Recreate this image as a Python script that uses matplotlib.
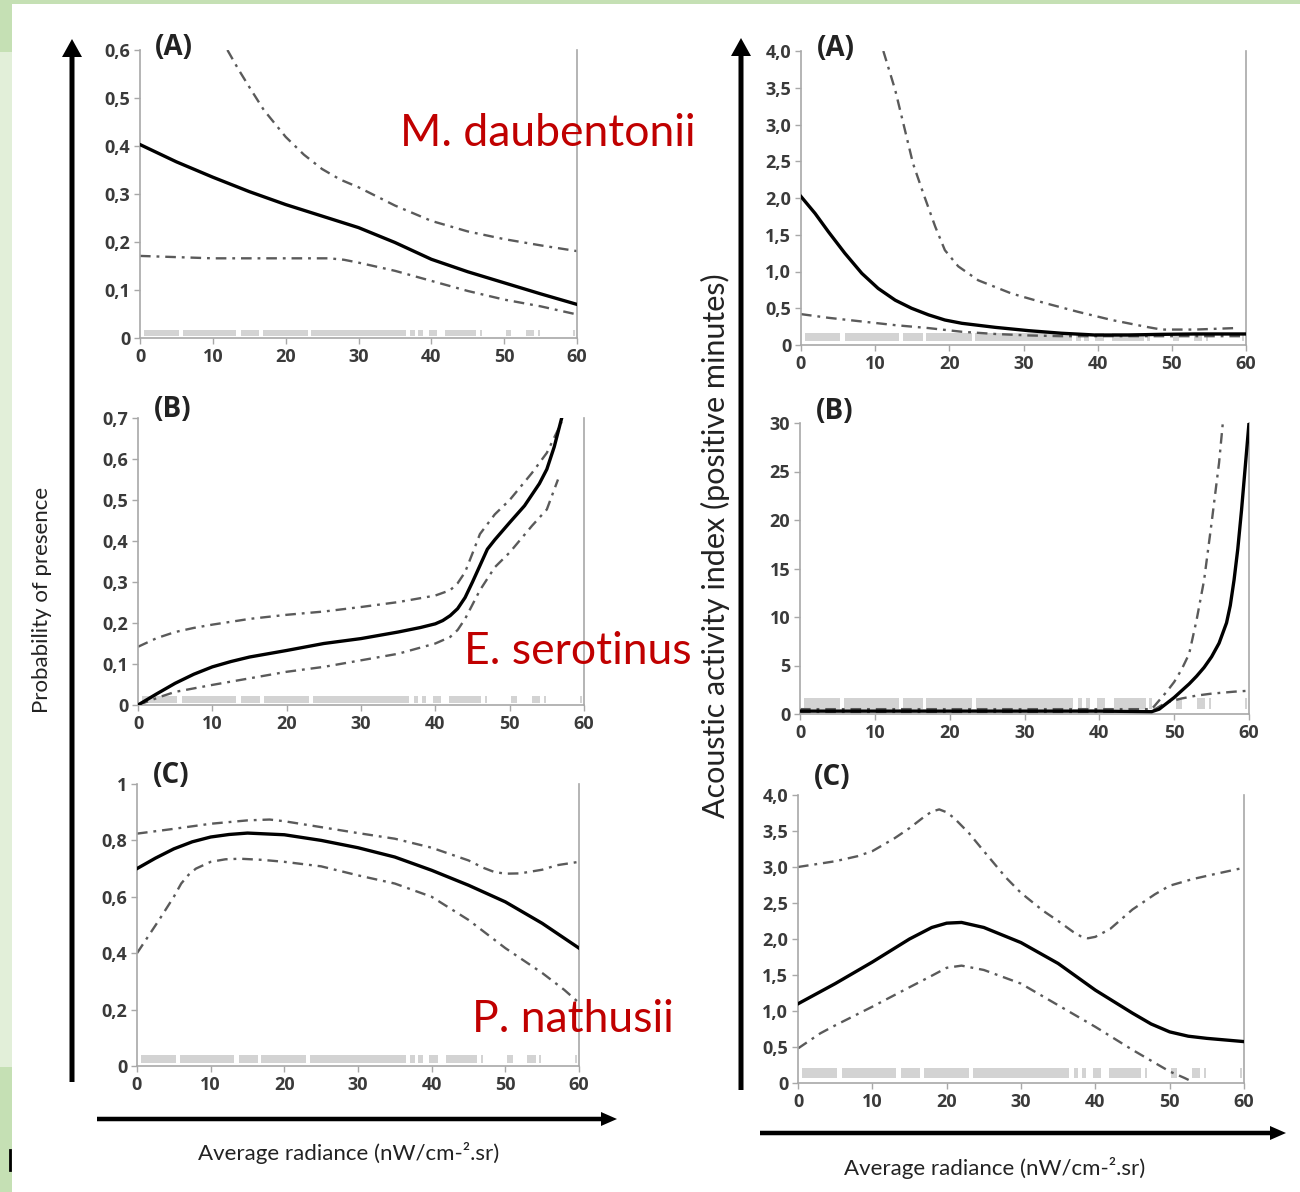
import numpy as np
import matplotlib.pyplot as plt
from matplotlib.patches import Rectangle, FancyArrow

plt.rcParams['font.family'] = ['Lato', 'DejaVu Sans']

# x positions (radiance) of the sampled sites, drawn as a rug of spans
rug_spans = [(0.5, 5.3), (5.9, 13.2), (13.8, 16.4), (16.9, 23.0), (23.5, 36.5),
             (37.1, 37.7), (38.2, 38.8), (39.7, 40.8), (41.9, 46.2), (46.7, 47.0),
             (50.2, 51.0), (53.0, 54.1), (54.6, 54.9), (59.4, 59.7)]

x_ticks = [0, 10, 20, 30, 40, 50, 60]

# ---- probability of presence ----
# (A) M. daubentonii
pA_solid_x = [0, 5, 10, 15, 20, 25, 30, 35, 40, 45, 50, 55, 60]
pA_solid_y = [0.403, 0.367, 0.335, 0.305, 0.278, 0.254, 0.230, 0.199, 0.164, 0.138, 0.115, 0.092, 0.070]
pA_up_x = [12, 13.5, 15, 17, 20, 22.5, 25, 27.5, 30, 35, 40, 45, 50, 55, 60]
pA_up_y = [0.600, 0.560, 0.523, 0.475, 0.419, 0.382, 0.352, 0.330, 0.314, 0.276, 0.244, 0.222, 0.206, 0.193, 0.181]
pA_lo_x = [0, 10, 20, 26, 28, 30, 35, 40, 45, 50, 55, 60]
pA_lo_y = [0.171, 0.166, 0.166, 0.166, 0.163, 0.157, 0.140, 0.119, 0.098, 0.080, 0.066, 0.049]

# (B) E. serotinus
pB_solid_x = [0, 2.5, 5, 7.5, 10, 12.5, 15, 20, 25, 30, 35, 38, 40, 41, 42, 43, 44, 45, 46, 47, 48, 50, 52,
              54, 55, 56, 57]
pB_solid_y = [0.0, 0.027, 0.053, 0.075, 0.093, 0.106, 0.117, 0.133, 0.150, 0.162, 0.178, 0.189, 0.198,
              0.206, 0.218, 0.235, 0.262, 0.300, 0.340, 0.380, 0.403, 0.445, 0.486, 0.540, 0.575, 0.630, 0.700]
pB_up_x = [0, 2.5, 5, 7.5, 10, 15, 20, 25, 30, 35, 40, 42, 43, 44, 45, 46, 48, 50, 53, 55, 57]
pB_up_y = [0.142, 0.163, 0.178, 0.188, 0.196, 0.210, 0.220, 0.228, 0.239, 0.251, 0.267, 0.280, 0.297, 0.324,
           0.370, 0.417, 0.465, 0.500, 0.566, 0.615, 0.690]
pB_lo_x = [0, 3, 5, 10, 15, 20, 25, 30, 35, 40, 42, 43, 44, 45, 46, 48, 50, 53, 55, 56.5]
pB_lo_y = [0.0, 0.020, 0.032, 0.049, 0.065, 0.081, 0.093, 0.109, 0.125, 0.150, 0.166, 0.183, 0.210, 0.245,
           0.280, 0.336, 0.372, 0.437, 0.477, 0.550]

# (C) P. nathusii
pC_solid_x = [0, 2.5, 5, 7.5, 10, 12.5, 15, 20, 25, 30, 35, 40, 45, 50, 55, 60]
pC_solid_y = [0.700, 0.737, 0.770, 0.795, 0.812, 0.821, 0.826, 0.820, 0.800, 0.774, 0.741, 0.694, 0.641,
              0.582, 0.506, 0.418]
pC_up_x = [0, 5, 10, 15, 18, 20, 25, 30, 35, 40, 45, 47, 48.5, 50, 52, 55, 57, 60]
pC_up_y = [0.824, 0.841, 0.859, 0.871, 0.874, 0.868, 0.847, 0.826, 0.806, 0.774, 0.729, 0.703, 0.688, 0.682,
           0.683, 0.696, 0.712, 0.724]
pC_lo_x = [0, 3, 5, 6, 7, 8, 10, 12, 14, 17, 20, 25, 30, 35, 40, 45, 50, 55, 58, 60]
pC_lo_y = [0.400, 0.518, 0.600, 0.647, 0.678, 0.700, 0.724, 0.733, 0.735, 0.731, 0.724, 0.708, 0.676, 0.647,
           0.600, 0.518, 0.418, 0.330, 0.270, 0.224]

# ---- acoustic activity index ----
# (A)
aA_solid_x = [0, 1.9, 3.7, 5.9, 8.2, 10.4, 12.7, 14.9, 17.2, 19.4, 21.7, 26.2, 30.7, 35.1, 39.6, 44.1, 48.6,
              53.1, 60]
aA_solid_y = [2.02, 1.79, 1.54, 1.25, 0.975, 0.77, 0.61, 0.50, 0.41, 0.34, 0.295, 0.24, 0.195, 0.16, 0.136,
              0.136, 0.145, 0.15, 0.15]
aA_up_x = [11.1, 12.7, 14.0, 15.1, 16.5, 18.1, 19.4, 21.2, 23.9, 28.4, 32.9, 37.4, 41.9, 46.4, 48.6, 53.1, 58.5]
aA_up_y = [4.0, 3.47, 2.93, 2.47, 2.06, 1.61, 1.29, 1.07, 0.88, 0.70, 0.57, 0.45, 0.34, 0.25, 0.21, 0.21, 0.23]
aA_lo_x = [0, 3.7, 8.2, 12.7, 17.2, 21.7, 26.2, 30.7, 35.1, 45, 60]
aA_lo_y = [0.42, 0.37, 0.32, 0.27, 0.23, 0.18, 0.15, 0.13, 0.12, 0.12, 0.12]

# (B)
aB_solid_x = [0, 10, 20, 30, 40, 47, 48, 49, 50, 51, 52, 53, 54, 55, 56, 57, 57.5, 58, 58.5, 59, 59.5, 60]
aB_solid_y = [0.3, 0.3, 0.3, 0.3, 0.3, 0.24, 0.5, 1.1, 1.7, 2.4, 3.1, 3.9, 4.8, 5.9, 7.3, 9.4, 11.2, 13.8,
              17.0, 21.0, 25.5, 30.0]
aB_up_x = [0, 10, 20, 30, 40, 47, 48, 49, 50, 51, 52, 53, 54, 55, 56, 56.5]
aB_up_y = [0.5, 0.5, 0.5, 0.5, 0.5, 0.5, 1.4, 2.3, 3.3, 4.6, 6.2, 9.7, 13.8, 19.7, 25.9, 30.0]
aB_lo_x = [0, 10, 20, 30, 40, 47, 49, 51, 53, 55, 58, 60]
aB_lo_y = [0.2, 0.2, 0.2, 0.2, 0.2, 0.3, 1.2, 1.6, 1.9, 2.1, 2.3, 2.4]

# (C)
aC_solid_x = [0, 5, 10, 15, 18, 20, 22, 25, 30, 35, 40, 45, 47.5, 50, 52.5, 55, 60]
aC_solid_y = [1.10, 1.38, 1.68, 2.00, 2.16, 2.22, 2.23, 2.16, 1.95, 1.66, 1.29, 0.97, 0.82, 0.71, 0.65,
              0.62, 0.575]
aC_up_x = [0, 5, 8, 10, 13, 15, 17, 18, 19, 20, 21, 23, 25, 28, 30, 33, 35, 37, 38, 39, 40, 42, 45, 48,
           50, 53, 56, 60]
aC_up_y = [3.00, 3.08, 3.15, 3.22, 3.40, 3.54, 3.70, 3.77, 3.80, 3.76, 3.68, 3.47, 3.22, 2.85, 2.64, 2.39,
           2.25, 2.10, 2.04, 2.01, 2.03, 2.14, 2.41, 2.62, 2.74, 2.83, 2.90, 2.99]
aC_lo_x = [0, 3, 5, 10, 15, 18, 20, 22, 25, 30, 35, 40, 45, 50, 52, 53]
aC_lo_y = [0.48, 0.69, 0.80, 1.06, 1.33, 1.49, 1.60, 1.63, 1.57, 1.38, 1.08, 0.78, 0.46, 0.16, 0.07, 0.02]

W, H = 1300, 1192
fig = plt.figure(figsize=(W / 100, H / 100), dpi=100)

# background layer in pixel coordinates
bg = fig.add_axes([0, 0, 1, 1])
bg.set_xlim(0, W)
bg.set_ylim(H, 0)
bg.axis('off')
dark_green, light_green = '#c5e0b4', '#e2efd9'
bg.add_patch(Rectangle((0, 0), W, 4, color=dark_green, lw=0))
bg.add_patch(Rectangle((0, 0), 12, 52, color=dark_green, lw=0))
bg.add_patch(Rectangle((0, 52), 12, 1015, color=light_green, lw=0))
bg.add_patch(Rectangle((0, 1067), 12, H - 1067, color=dark_green, lw=0))
bg.plot([10, 10], [1150, 1170], color='black', lw=2)

# big axis arrows
bg.add_patch(FancyArrow(72, 1082, 0, -1043, width=5, head_width=20, head_length=18,
                        length_includes_head=True, color='black', lw=0))
bg.add_patch(FancyArrow(741, 1090, 0, -1052, width=5, head_width=20, head_length=18,
                        length_includes_head=True, color='black', lw=0))
bg.add_patch(FancyArrow(97, 1119, 520, 0, width=4.5, head_width=14, head_length=16,
                        length_includes_head=True, color='black', lw=0))
bg.add_patch(FancyArrow(760, 1133, 526, 0, width=4.5, head_width=14, head_length=16,
                        length_includes_head=True, color='black', lw=0))

spine_col = '#a8a8a8'
ci_col = '#5a5a5a'
rug_col = '#d3d3d3'
dashdot = (0, (4.5, 2.5, 1.2, 2.5))
tick_font = ['Open Sans', 'DejaVu Sans']


def panel(px, ylim, yticks, ylabels, solid, upper, lower, tag, tag_y, rug_y):
    x0, x60, y0, ytop = px
    ax = fig.add_axes([x0 / W, 1 - y0 / H, (x60 - x0) / W, (y0 - ytop) / H])
    ax.patch.set_alpha(0)
    ax.set_xlim(0, 60)
    ax.set_ylim(*ylim)
    for s in ['left', 'bottom', 'right']:
        ax.spines[s].set_color(spine_col)
        ax.spines[s].set_linewidth(1.2)
    ax.spines['top'].set_visible(False)
    ax.set_xticks(x_ticks)
    ax.set_xticklabels([str(t) for t in x_ticks])
    ax.set_yticks(yticks)
    ax.set_yticklabels(ylabels)
    ax.tick_params(axis='both', colors=spine_col, labelcolor='#3a3a3a', length=4,
                   width=1, labelsize=13, pad=3)
    for lab in ax.get_xticklabels() + ax.get_yticklabels():
        lab.set_fontweight('bold')
        lab.set_family(tick_font)
    ax.broken_barh([(a, b - a) for a, b in rug_spans], rug_y,
                   transform=ax.get_xaxis_transform(), color=rug_col, lw=0, zorder=1)
    ax.plot(*upper, color=ci_col, lw=1.7, ls=dashdot, zorder=2)
    ax.plot(*lower, color=ci_col, lw=1.7, ls=dashdot, zorder=2)
    ax.plot(*solid, color='black', lw=2.4, zorder=3)
    ax.text(0.035, tag_y, tag, transform=ax.transAxes, ha='left', va='center',
            fontsize=20, fontweight='bold', color='#222222', family=tick_font)
    return ax


panel((140, 577, 338, 50), (0, 0.6), [0, 0.1, 0.2, 0.3, 0.4, 0.5, 0.6],
      ['0', '0,1', '0,2', '0,3', '0,4', '0,5', '0,6'],
      (pA_solid_x, pA_solid_y), (pA_up_x, pA_up_y), (pA_lo_x, pA_lo_y),
      '(A)', 1.01, (0.008, 0.02))
panel((138, 584, 705, 418), (0, 0.7), [0, 0.1, 0.2, 0.3, 0.4, 0.5, 0.6, 0.7],
      ['0', '0,1', '0,2', '0,3', '0,4', '0,5', '0,6', '0,7'],
      (pB_solid_x, pB_solid_y), (pB_up_x, pB_up_y), (pB_lo_x, pB_lo_y),
      '(B)', 1.03, (0.008, 0.022))
panel((137, 579, 1066, 784), (0, 1), [0, 0.2, 0.4, 0.6, 0.8, 1],
      ['0', '0,2', '0,4', '0,6', '0,8', '1'],
      (pC_solid_x, pC_solid_y), (pC_up_x, pC_up_y), (pC_lo_x, pC_lo_y),
      '(C)', 1.03, (0.012, 0.026))
panel((801, 1246, 345, 51), (0, 4), [0, 0.5, 1, 1.5, 2, 2.5, 3, 3.5, 4],
      ['0', '0,5', '1,0', '1,5', '2,0', '2,5', '3,0', '3,5', '4,0'],
      (aA_solid_x, aA_solid_y), (aA_up_x, aA_up_y), (aA_lo_x, aA_lo_y),
      '(A)', 1.01, (0.012, 0.03))
panel((800, 1249, 714, 423), (0, 30), [0, 5, 10, 15, 20, 25, 30],
      ['0', '5', '10', '15', '20', '25', '30'],
      (aB_solid_x, aB_solid_y), (aB_up_x, aB_up_y), (aB_lo_x, aB_lo_y),
      '(B)', 1.04, (0.018, 0.036))
panel((798, 1244, 1083, 795), (0, 4), [0, 0.5, 1, 1.5, 2, 2.5, 3, 3.5, 4],
      ['0', '0,5', '1,0', '1,5', '2,0', '2,5', '3,0', '3,5', '4,0'],
      (aC_solid_x, aC_solid_y), (aC_up_x, aC_up_y), (aC_lo_x, aC_lo_y),
      '(C)', 1.06, (0.017, 0.034))

# axis titles
fig.text(42 / W, 1 - 600 / H, 'Probability of presence', rotation=90,
         ha='center', va='center', fontsize=16, color='#222222')
fig.text(715 / W, 1 - 546 / H, 'Acoustic activity index (positive minutes)', rotation=90,
         ha='center', va='center', fontsize=22, color='#222222')
fig.text(349 / W, 1 - 1153 / H, 'Average radiance (nW/cm-\u00b2.sr)',
         ha='center', va='center', fontsize=16, color='#222222')
fig.text(995 / W, 1 - 1168 / H, 'Average radiance (nW/cm-\u00b2.sr)',
         ha='center', va='center', fontsize=16, color='#222222')

# species names
red = '#c00000'
fig.text(548 / W, 1 - 133 / H, 'M. daubentonii', ha='center', va='center', fontsize=32, color=red)
fig.text(578 / W, 1 - 651 / H, 'E. serotinus', ha='center', va='center', fontsize=32, color=red)
fig.text(573 / W, 1 - 1020 / H, 'P. nathusii', ha='center', va='center', fontsize=32, color=red)

fig.savefig('out.png', dpi=100)
